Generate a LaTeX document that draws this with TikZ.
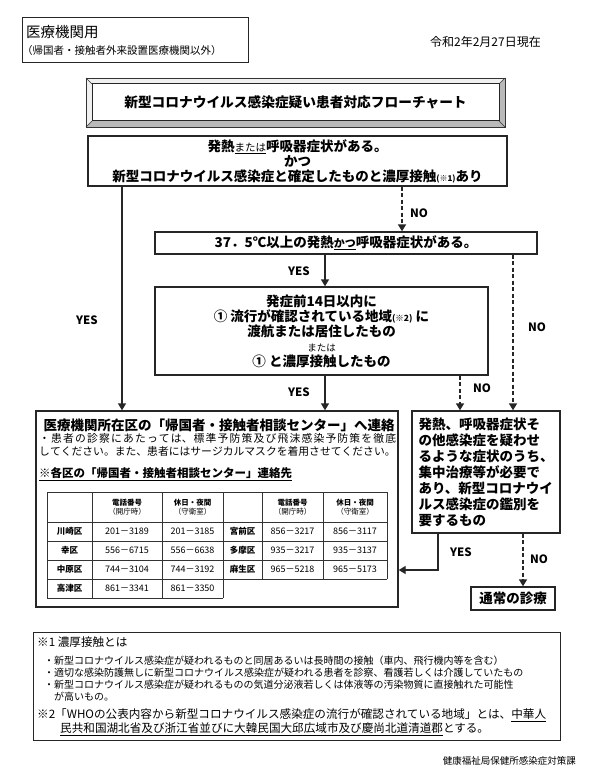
\documentclass[tikz,border=0pt]{standalone}
\usepackage{fontspec}
\setmainfont{Noto Sans CJK JP}
\usetikzlibrary{arrows.meta}
\newcommand\fs[2]{\fontsize{#1}{#2}\selectfont}
\begin{document}
\begin{tikzpicture}[x=1pt,y=-1pt,
  ink/.style={draw=black!85},
  box/.style={ink, line width=1.4pt, inner sep=0pt, align=center, font=\bfseries\fs{13.5}{15}},
  thinbox/.style={ink, line width=0.8pt, inner sep=0pt},
  arr/.style={ink, line width=1.4pt, -{Triangle[length=7pt,width=8pt]}},
  darr/.style={arr, line width=1.7pt, dash pattern=on 4pt off 2.5pt},
  lab/.style={font=\bfseries\fs{11.5}{13}, inner sep=0pt},
  cellh/.style={font=\fs{7.5}{9}, align=center, inner sep=0pt},
  cellw/.style={font=\bfseries\fs{8.5}{10}, inner sep=0pt},
  celln/.style={font=\fs{9}{10}, inner sep=0pt},
  note/.style={anchor=west, inner sep=0pt, font=\fs{10}{12}},
  notebig/.style={anchor=west, inner sep=0pt, font=\fs{11.6}{14}}]
\useasboundingbox (0,0) rectangle (593,775);
\fill[white] (0,0) rectangle (593,775);

% ---------- header ----------
\node[thinbox, minimum width=226pt, minimum height=45pt, anchor=north west] (hdr) at (22,17) {};
\node[anchor=west, inner sep=0pt, font=\fs{14.5}{16}] (h1) at (26,32) {医療機関用};
\node[anchor=west, inner sep=0pt, font=\fs{10.5}{12}] (h2) at (22,51) {（帰国者・接触者外来設置医療機関以外）};
\node[anchor=east, inner sep=0pt, font=\fs{12}{14}] (date) at (541,42) {令和2年2月27日現在};

% ---------- title (bevelled frame) ----------
\fill[gray!55] (505,78) -- (505,127) -- (86,127) -- (92,121) -- (499,121) -- (499,84) -- cycle;
\fill[gray!12] (86,78) -- (505,78) -- (499,84) -- (92,84) -- (92,121) -- (86,127) -- cycle;
\draw[black!80, line width=0.8pt] (86,78) rectangle (505,127);
\draw[black!85, line width=1pt] (92,84) rectangle (499,121);
\draw[black!80, line width=0.5pt] (86,78) -- (92,84) (505,78) -- (499,84) (86,127) -- (92,121) (505,127) -- (499,121);
\node[inner sep=0pt, font=\bfseries\fs{13.7}{16}] (title) at (295.5,102.5) {新型コロナウイルス感染症疑い患者対応フローチャート};

% ---------- flow boxes ----------
\node[box, minimum width=419pt, minimum height=50pt] (b1) at (297.5,161)
  {発熱{\mdseries\fontsize{10.5}{15}\selectfont\underline{または}}呼吸器症状がある。\\
   かつ\\
   新型コロナウイルス感染症と確定したものと濃厚接触{\fontsize{8}{15}\selectfont(※1)}あり};
\node[box, minimum width=382pt, minimum height=22pt] (b2) at (346,243)
  {37．5℃以上の発熱{\fontsize{11}{15}\selectfont\underline{かつ}}呼吸器症状がある。};
\node[box, minimum width=333pt, minimum height=88pt] (b3) at (321.5,331)
  {発症前14日以内に\\
   ① 流行が確認されている地域{\fontsize{8.5}{15}\selectfont(※2)} に\\
   渡航または居住したもの\\
   {\mdseries\fontsize{9.5}{15}\selectfont または}\\
   ① と濃厚接触したもの};
\node[box, minimum width=362pt, minimum height=196pt] (L) at (217,509) {};
\node[box, minimum width=148pt, minimum height=122pt, align=left, font=\bfseries\fs{13.5}{16}] (R) at (486,472)
  {発熱、呼吸器症状そ\\
   の他感染症を疑わせ\\
   るような症状のうち、\\
   集中治療等が必要で\\
   あり、新型コロナウイ\\
   ルス感染症の鑑別を\\
   要するもの};
\node[box, minimum width=84pt, minimum height=23pt] (N) at (513,598.5) {通常の診療};

% ---------- connectors ----------
\coordinate (xL) at (122,0);
\coordinate (xA) at (402,0);
\coordinate (xC) at (325,0);
\coordinate (xB) at (513,0);
\coordinate (xD) at (460,0);
\coordinate (xE) at (523,0);
\coordinate (ryes) at (438,570);

\draw[arr] (xL |- b1.south) -- (xL |- L.north);
\draw[darr] (xA |- b1.south) -- (xA |- b2.north);
\draw[arr] (xC |- b2.south) -- (xC |- b3.north);
\draw[darr] (xB |- b2.south) -- (xB |- R.north);
\draw[arr] (xC |- b3.south) -- (xC |- L.north);
\draw[darr] (xD |- b3.south) -- (xD |- R.north);
\draw[arr] (ryes |- R.south) -- (ryes) -- (ryes -| L.east);
\draw[darr] (xE |- R.south) -- (xE |- N.north);

\node[lab] (lyes1) at (87,320) {YES};
\node[lab] (lno1) at (419,213) {NO};
\node[lab] (lyes2) at (299,271) {YES};
\node[lab] (lno2) at (537,327) {NO};
\node[lab] (lyes3) at (299,392) {YES};
\node[lab] (lno3) at (482,388) {NO};
\node[lab] (lyes4) at (461,552) {YES};
\node[lab] (lno4) at (539,559) {NO};

% ---------- contents of the left box ----------
\node[inner sep=0pt, font=\bfseries\fs{13.5}{16}] (Lt) at (219,425) {医療機関所在区の「帰国者・接触者相談センター」へ連絡};
\node[anchor=north west, inner sep=0pt, font=\fs{10.8}{13.5}] (Lb) at (39,433)
  {\parbox{357pt}{\XeTeXlinebreaklocale "ja"\XeTeXlinebreakskip=0pt plus 2pt\relax ・患者の診察にあたっては、標準予防策及び飛沫感染予防策を徹底\linebreak してください。また、患者にはサージカルマスクを着用させてください。}};
\node[anchor=west, inner sep=0pt, font=\bfseries\fs{11.5}{13}] (Ls) at (39,474) {\underline{※各区の「帰国者・接触者相談センター」連絡先}};

% ---------- table ----------
\begin{scope}[black!80, line width=0.8pt]
  \foreach \yy in {492,522,541,560,579} \draw (47,\yy) -- (387,\yy);
  \draw (47,598) -- (223,598);
  \foreach \xx in {47,92,162,223} \draw (\xx,492) -- (\xx,598);
  \foreach \xx in {262,323,387} \draw (\xx,492) -- (\xx,579);
\end{scope}
\node[cellh] (th1) at (127,507) {\textbf{電話番号}\\（開庁時）};
\node[cellh] (th2) at (192.5,507) {\textbf{休日・夜間}\\（守衛室）};
\node[cellh] (th3) at (292.5,507) {\textbf{電話番号}\\（開庁時）};
\node[cellh] (th4) at (355,507) {\textbf{休日・夜間}\\（守衛室）};
\foreach \yy/\wa/\na/\nb/\wb/\nc/\nd [count=\i] in
  {531.5/川崎区/201－3189/201－3185/宮前区/856－3217/856－3117,
   550.5/幸区/556－6715/556－6638/多摩区/935－3217/935－3137,
   569.5/中原区/744－3104/744－3192/麻生区/965－5218/965－5173}
{
  \node[cellw] (w\i) at (69.5,\yy) {\wa};
  \node[celln] (na\i) at (127,\yy) {\na};
  \node[celln] (nb\i) at (192.5,\yy) {\nb};
  \node[cellw] (wb\i) at (242.5,\yy) {\wb};
  \node[celln] (nc\i) at (292.5,\yy) {\nc};
  \node[celln] (nd\i) at (355,\yy) {\nd};
}
\node[cellw] (w4) at (69.5,588.5) {高津区};
\node[celln] (na4) at (127,588.5) {861－3341};
\node[celln] (nb4) at (192.5,588.5) {861－3350};

% ---------- notes ----------
\node[thinbox, minimum width=527pt, minimum height=108pt] (notes) at (296.5,686) {};
\node[notebig] (n1) at (37,642) {※1 濃厚接触とは};
\node[note] (n2) at (44,661) {・新型コロナウイルス感染症が疑われるものと同居あるいは長時間の接触（車内、飛行機内等を含む）};
\node[note] (n3) at (44,673) {・適切な感染防護無しに新型コロナウイルス感染症が疑われる患者を診察、看護若しくは介護していたもの};
\node[note] (n4) at (44,685) {・新型コロナウイルス感染症が疑われるものの気道分泌液若しくは体液等の汚染物質に直接触れた可能性};
\node[note] (n5) at (54,697) {が高いもの。};
\node[notebig] (n6) at (37,715) {※2「WHOの公表内容から新型コロナウイルス感染症の流行が確認されている地域」とは、\underline{中華人}};
\node[notebig] (n7) at (60,729) {\underline{民共和国湖北省及び浙江省並びに大韓民国大邱広域市及び慶尚北道清道郡}とする。};

\node[anchor=east, inner sep=0pt, font=\fs{9.5}{11}] (foot) at (576,761) {健康福祉局保健所感染症対策課};
\end{tikzpicture}
\end{document}
